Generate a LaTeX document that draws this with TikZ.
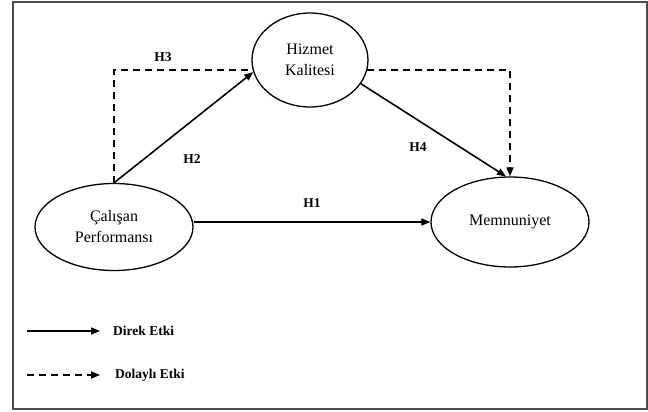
\documentclass[tikz,border=0pt]{standalone}
\usepackage{fontspec}
\setmainfont{Liberation Serif}
\usetikzlibrary{arrows.meta,shapes.geometric}

\begin{document}
\begin{tikzpicture}[x=1pt, y=-1pt,
        every node/.style = {align=center},
        construct/.style = {ellipse, draw, line width=1.3pt, inner sep=0pt,
            font=\fontsize{16}{21}\selectfont},
        hyp/.style = {font=\fontsize{13.5}{16}\selectfont\bfseries},
        direct/.style = {line width=1.6pt, -{Triangle[length=9pt,width=7pt]}},
        indirect/.style = {line width=1.6pt, dash pattern=on 7pt off 5pt},
        legtext/.style = {anchor=west, inner xsep=0pt, font=\fontsize{13.5}{16}\selectfont\bfseries}]
    \useasboundingbox (0,0) rectangle (648,412);
    \draw[gray!60!black, line width=1.5pt] (13,2) rectangle (647,409);

    % constructs
    \node[construct, minimum width=158pt, minimum height=87pt] (cp) at (114,227) {Çalışan\\Performansı};
    \node[construct, minimum width=116pt, minimum height=94pt] (hk) at (310,60) {Hizmet\\Kalitesi};
    \node[construct, minimum width=158pt, minimum height=90pt] (mn) at (510,222) {Memnuniyet};

    % paths
    \draw[direct] (cp.east |- mn.west) -- (mn.west);
    \draw[direct] (cp.north) -- (hk.192);
    \draw[indirect] (cp.north) |- (hk.190);
    \draw[direct] (hk.335) -- (mn.95);
    \draw[indirect, -{Triangle[length=9pt,width=7pt]}] (hk.350) -| (mn.north);

    \node[hyp] (h1) at (312,203) {H1};
    \node[hyp] (h2) at (192,159) {H2};
    \node[hyp] (h3) at (163,57) {H3};
    \node[hyp] (h4) at (418,147) {H4};

    % legend
    \coordinate (ld1) at (27,331);
    \coordinate (ld2) at (27,375);
    \node[legtext] (le1) at (113,331) {Direk Etki};
    \node[legtext] (le2) at (115,375) {Dolaylı Etki};
    \draw[direct] (ld1) -- ([xshift=-13pt]le1.west);
    \draw[indirect, -{Triangle[length=9pt,width=7pt]}] (ld2) -- ([xshift=-15pt]le2.west);
\end{tikzpicture}
\end{document}
